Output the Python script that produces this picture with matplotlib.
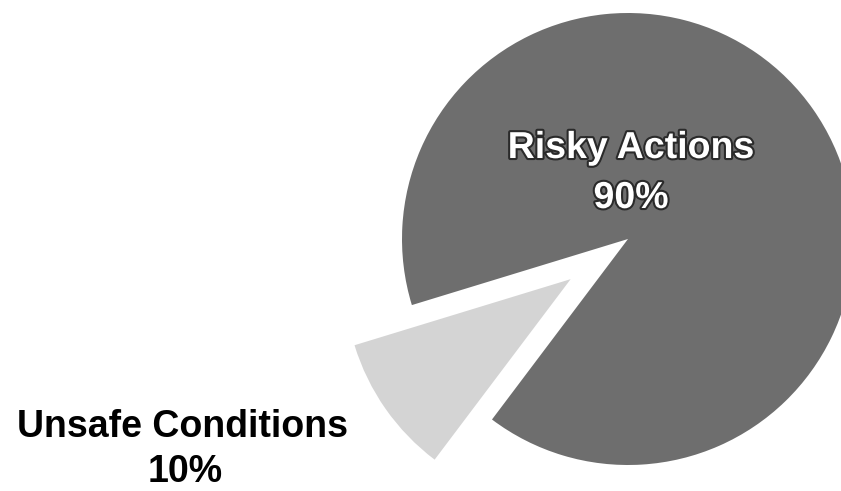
import matplotlib
matplotlib.use("Agg")
import matplotlib.pyplot as plt
import matplotlib.patheffects as pe

# Data
categories = ["Risky Actions", "Unsafe Conditions"]
values = [90, 10]
value_labels = ["90%", "10%"]

W, H = 841, 491
fig = plt.figure(figsize=(W / 100, H / 100), dpi=100)
ax = fig.add_axes([0, 0, 1, 1])
ax.set_xlim(0, W)
ax.set_ylim(0, H)
ax.set_aspect("equal")
ax.axis("off")

cx, cy, r = 628, H - 239, 226
wedges, _ = ax.pie(values, colors=["#6e6e6e", "#d4d4d4"], startangle=233,
                   counterclock=True, explode=[0, 70], radius=r,
                   center=(cx, cy), frame=True,
                   wedgeprops=dict(linewidth=0))
ax.set_xlim(0, W)
ax.set_ylim(0, H)
ax.axis("off")

font = dict(family=["Liberation Sans", "DejaVu Sans"], fontweight="bold", fontsize=27)
stroke = [pe.withStroke(linewidth=3, foreground="#2a2a2a")]

ax.text(631, H - 158, categories[0], color="white", ha="center", va="baseline",
        path_effects=stroke, **font)
ax.text(631, H - 208, value_labels[0], color="white", ha="center", va="baseline",
        path_effects=stroke, **font)

ax.text(183, H - 437, categories[1], color="black", ha="center", va="baseline", **font)
ax.text(185, H - 482, value_labels[1], color="black", ha="center", va="baseline", **font)

fig.savefig("out.png", dpi=100)
